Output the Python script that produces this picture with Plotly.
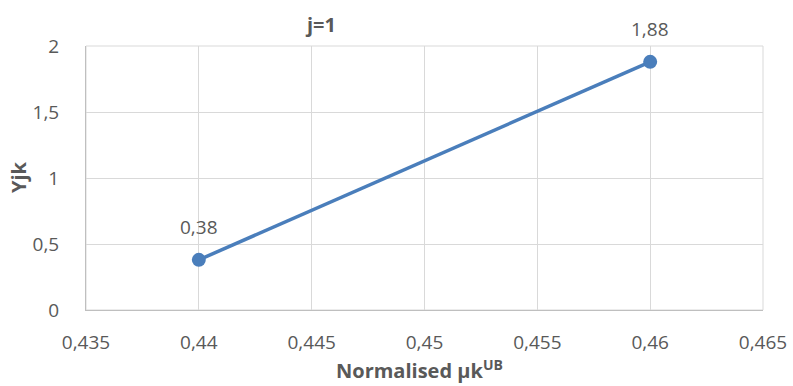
import plotly.graph_objects as go

x_vals = [0.44, 0.46]
y_vals = [0.38, 1.88]
labels = [f"{v:.2f}".replace(".", ",") for v in y_vals]

title_text = "j=1"
x_title = "Normalised µk<sup>UB</sup>"
y_title = "Yjk"

font_family = "Open Sans"
gray = "#595959"
grid = "#d9d9d9"

W, H = 793, 386
L, R, T, B = 86, 30, 46, 76
pw, ph = W - L - R, H - T - B

fig = go.Figure()
fig.add_trace(go.Scatter(
    x=x_vals, y=y_vals, mode="lines+markers",
    line=dict(color="#4a7ebb", width=3.5),
    marker=dict(color="#4a7ebb", size=14),
    cliponaxis=False, showlegend=False, hoverinfo="skip",
))

annotations = []
for xv, yv, lab in zip(x_vals, y_vals, labels):
    annotations.append(dict(x=xv, y=yv, xref="x", yref="y", text=lab, showarrow=False,
                            yshift=33, font=dict(size=19, color=gray, family=font_family)))
annotations.append(dict(text=f"<b>{title_text}</b>", xref="paper", yref="paper",
                        x=(320 - L) / pw, y=1 + (T - 24) / ph, showarrow=False,
                        xanchor="center", yanchor="middle",
                        font=dict(size=20, color=gray, family=font_family)))
annotations.append(dict(text=f"<b>{x_title}</b>", xref="paper", yref="paper",
                        x=(419 - L) / pw, y=-(369 - (T + ph)) / ph, showarrow=False,
                        xanchor="center", yanchor="middle",
                        font=dict(size=20, color=gray, family=font_family)))
annotations.append(dict(text=f"<b>{y_title}</b>", xref="paper", yref="paper",
                        x=-(L - 18) / pw, y=(T + ph - 177) / ph, showarrow=False,
                        xanchor="center", yanchor="middle", textangle=-90,
                        font=dict(size=20, color=gray, family=font_family)))

fig.update_layout(
    width=W, height=H,
    margin=dict(l=L, r=R, t=T, b=B),
    paper_bgcolor="white", plot_bgcolor="white",
    separators=",.",
    font=dict(family=font_family, color=gray, size=19),
    annotations=annotations,
)
fig.update_xaxes(
    range=[0.435, 0.465], dtick=0.005, tick0=0.435,
    showgrid=True, gridcolor=grid, gridwidth=1,
    showline=True, linecolor="#bfbfbf", linewidth=1,
    zeroline=False, ticks="", ticklabelstandoff=15, automargin=False,
    tickfont=dict(size=19, color=gray, family=font_family),
)
fig.update_yaxes(
    range=[0, 2], dtick=0.5,
    showgrid=True, gridcolor=grid, gridwidth=1,
    showline=True, linecolor="#bfbfbf", linewidth=1,
    zeroline=False, ticks="", ticklabelstandoff=22, automargin=False,
    tickfont=dict(size=19, color=gray, family=font_family),
)
fig.add_shape(type="rect", xref="paper", yref="paper", x0=0, x1=1, y0=0, y1=1,
              line=dict(color=grid, width=1), layer="below")

fig.write_html("out.html", config={"displayModeBar": False},
               post_script="document.body.style.margin='0';document.body.style.overflow='hidden';")
